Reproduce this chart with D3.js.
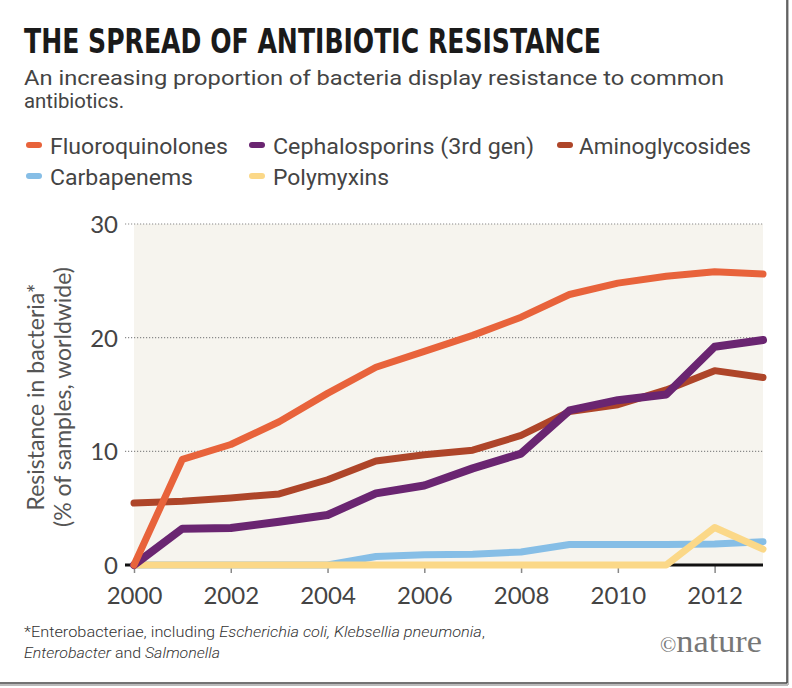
<!DOCTYPE html>
<html><head><meta charset="utf-8">
<script src="https://cdn.jsdelivr.net/npm/d3@7"></script>
<style>body{margin:0;background:#fff}svg{display:block}</style>
</head><body><div id="chart"></div>
<script>
const years = [2000,2001,2002,2003,2004,2005,2006,2007,2008,2009,2010,2011,2012,2013];
const fluoroquinolones = [0,9.3,10.6,12.6,15.1,17.4,18.8,20.2,21.8,23.8,24.8,25.4,25.8,25.6];
const cephalosporins   = [0,3.2,3.25,3.8,4.4,6.3,7.0,8.5,9.8,13.6,14.5,15.0,19.2,19.8];
const aminoglycosides  = [5.45,5.6,5.9,6.25,7.5,9.15,9.7,10.1,11.4,13.5,14.1,15.4,17.1,16.5];
const carbapenems      = [0,0,0,0,0,0.75,0.9,0.95,1.15,1.8,1.8,1.8,1.85,2.05];
const polymyxins       = [0,0,0,0,0,0,0,0,0,0,0,0,3.3,1.4];
const seriesNames = ["Fluoroquinolones","Cephalosporins (3rd gen)","Aminoglycosides","Carbapenems","Polymyxins"];
const seriesColors = ["#e8633b","#6a2571","#ae4529","#86bee6","#fbd888"];
const yTicks = [0,10,20,30];
const xTicks = [2000,2002,2004,2006,2008,2010,2012];

const W=792,H=688;
const svg=d3.select("#chart").append("svg").attr("width",W).attr("height",H);
const x=d3.scaleLinear().domain([2000,2013]).range([134,763]);
const y=d3.scaleLinear().domain([0,30]).range([565,224]);

// frame
svg.append("line").attr("x1",788).attr("x2",788).attr("y1",0).attr("y2",685).attr("stroke","#bbb").attr("stroke-width",2);
svg.append("line").attr("x1",0).attr("x2",788).attr("y1",685).attr("y2",685).attr("stroke","#bbb").attr("stroke-width",2);
svg.append("line").attr("x1",787).attr("x2",787).attr("y1",0).attr("y2",683).attr("stroke","#444").attr("stroke-width",1.5);
svg.append("line").attr("x1",0).attr("x2",787).attr("y1",683).attr("y2",683).attr("stroke","#444").attr("stroke-width",1.5);

// title
svg.append("text").attr("x",24).attr("y",53).text("THE SPREAD OF ANTIBIOTIC RESISTANCE")
  .attr("font-family","'DejaVu Sans Condensed','DejaVu Sans',sans-serif").attr("font-weight","bold")
  .attr("font-size",34).attr("fill","#1a1a1a").attr("textLength",577).attr("lengthAdjust","spacingAndGlyphs");
const sub=[["An increasing proportion of bacteria display resistance to common",85,700],["antibiotics.",108,100]];
sub.forEach(s=>{svg.append("text").attr("x",24).attr("y",s[1]).text(s[0])
  .attr("font-family","Roboto,sans-serif").attr("font-weight",400).attr("font-size",21).attr("fill","#444")
  .attr("textLength",s[2]).attr("lengthAdjust","spacingAndGlyphs");});

// legend
const legPos=[[26,154,178],[249,154,261],[557,154,172],[26,185,143],[249,185,116]];
const legTxtX=[50,273,579,50,273];
seriesNames.forEach((n,i)=>{
  const [sx,by,tl]=legPos[i];
  svg.append("line").attr("x1",sx+3).attr("x2",sx+13).attr("y1",by-9).attr("y2",by-9)
    .attr("stroke",seriesColors[i]).attr("stroke-width",6).attr("stroke-linecap","round");
  svg.append("text").attr("x",legTxtX[i]).attr("y",by).text(n)
    .attr("font-family","Roboto,sans-serif").attr("font-weight",400).attr("font-size",22).attr("fill","#444")
    .attr("textLength",tl).attr("lengthAdjust","spacingAndGlyphs");
});

// plot background
svg.append("rect").attr("x",x(2000)).attr("y",y(30)).attr("width",x(2013)-x(2000)).attr("height",y(0)-y(30)).attr("fill","#f6f4ee");

// gridlines
svg.append("g").selectAll("line").data(yTicks.filter(d=>d>0)).join("line")
  .attr("x1",125).attr("x2",x(2013)).attr("y1",d=>y(d)).attr("y2",d=>y(d))
  .attr("stroke","#8a8a8a").attr("stroke-width",1.2).attr("stroke-dasharray","1.2,1.8");

// y axis labels
const yAxis=d3.axisLeft(y).tickValues(yTicks).tickSize(0).tickPadding(0).tickFormat(d3.format("d"));
const ya=svg.append("g").attr("transform","translate(118,0)").call(yAxis);
ya.select(".domain").remove();
ya.selectAll("text").attr("font-family","Lato,sans-serif").attr("font-size",24).attr("fill","#444").attr("dy","0.35em");

// x axis
const xAxis=d3.axisBottom(x).tickValues(xTicks).tickSize(7).tickPadding(14).tickFormat(d3.format("d"));
const xa=svg.append("g").attr("transform",`translate(0,${y(0)+1})`).call(xAxis);
xa.select(".domain").remove();
xa.selectAll("line").attr("stroke","#888").attr("stroke-width",1.5);
xa.selectAll("text").attr("font-family","Lato,sans-serif").attr("font-size",24).attr("fill","#444");

// baseline
svg.append("line").attr("x1",125).attr("x2",x(2013)).attr("y1",y(0)).attr("y2",y(0)).attr("stroke","#111").attr("stroke-width",3);

// y axis title
const yt=svg.append("g").attr("transform","translate(0,397) rotate(-90)");
yt.append("text").attr("x",0).attr("y",44).attr("text-anchor","middle").text("Resistance in bacteria*")
  .attr("font-family","Lato,sans-serif").attr("font-size",23).attr("fill","#555");
yt.append("text").attr("x",0).attr("y",71).attr("text-anchor","middle").text("(% of samples, worldwide)")
  .attr("font-family","Lato,sans-serif").attr("font-size",23).attr("fill","#555");

// lines
const dataSeries=[fluoroquinolones,cephalosporins,aminoglycosides,carbapenems,polymyxins];
const line=d3.line().x((d,i)=>x(years[i])).y(d=>y(d));
const order=[3,4,2,1,0];
order.forEach(i=>{
  svg.append("path").attr("d",line(dataSeries[i])).attr("fill","none").attr("stroke",seriesColors[i])
    .attr("stroke-width",i===1?8:7).attr("stroke-linejoin","round").attr("stroke-linecap","round");
});

// footnote
const fn=svg.append("text").attr("x",24).attr("y",637).attr("font-family","Roboto,sans-serif").attr("font-weight",300)
  .attr("font-size",15).attr("fill","#333").attr("textLength",461).attr("lengthAdjust","spacingAndGlyphs");
fn.append("tspan").text("*Enterobacteriae, including ");
fn.append("tspan").attr("font-style","italic").text("Escherichia coli, Klebsellia pneumonia");
fn.append("tspan").text(",");
const fn2=svg.append("text").attr("x",24).attr("y",658).attr("font-family","Roboto,sans-serif").attr("font-weight",300)
  .attr("font-size",15).attr("fill","#333").attr("textLength",196).attr("lengthAdjust","spacingAndGlyphs");
fn2.append("tspan").attr("font-style","italic").text("Enterobacter");
fn2.append("tspan").text(" and ");
fn2.append("tspan").attr("font-style","italic").text("Salmonella");

// nature logo
const nl=svg.append("text").attr("x",660).attr("y",652).attr("font-family","'Liberation Serif','DejaVu Serif',serif").attr("fill","#777")
  .attr("textLength",102).attr("lengthAdjust","spacingAndGlyphs");
nl.append("tspan").attr("font-size",20).text("©");
nl.append("tspan").attr("font-size",32).text("nature");
</script>
</body></html>
